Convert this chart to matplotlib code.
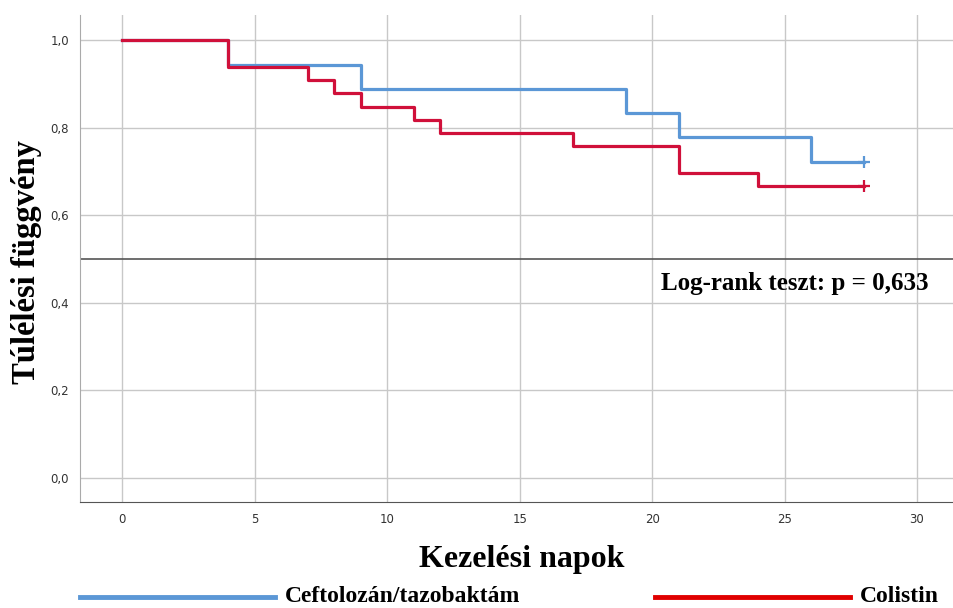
import matplotlib.pyplot as plt
from matplotlib.lines import Line2D
from matplotlib.ticker import FuncFormatter

# Kaplan-Meier step data (time in days, survival)
cef_days = [0, 4, 9, 19, 21, 26, 28]
cef_surv = [1.0, 0.944, 0.889, 0.833, 0.778, 0.722, 0.722]
col_days = [0, 4, 7, 8, 9, 11, 12, 17, 21, 24, 28]
col_surv = [1.0, 0.939, 0.909, 0.879, 0.848, 0.818, 0.788, 0.758, 0.697, 0.667, 0.667]

x_ticks = [0, 5, 10, 15, 20, 25, 30]
y_ticks = [0.0, 0.2, 0.4, 0.6, 0.8, 1.0]

blue = '#5b97d6'
red = '#d0103a'

plt.rcParams['font.family'] = ['DejaVu Sans']
serif = 'Liberation Serif'

fig = plt.figure(figsize=(9.54, 6.08), dpi=100)
ax = fig.add_axes([0.0839, 0.1743, 0.9161, 0.8010])

ax.step(cef_days, cef_surv, where='post', color=blue, lw=2.3)
ax.step(col_days, col_surv, where='post', color=red, lw=2.3)
# censored marks at the end
ax.plot(cef_days[-1], cef_surv[-1], marker='+', ms=8, mew=1.6, color=blue)
ax.plot(col_days[-1], col_surv[-1], marker='+', ms=8, mew=1.6, color=red)

ax.axhline(0.5, color='#555555', lw=1.2)

ax.set_xlim(-1.6, 31.4)
ax.set_ylim(-0.055, 1.057)
ax.set_xticks(x_ticks)
ax.set_yticks(y_ticks)
ax.yaxis.set_major_formatter(FuncFormatter(lambda v, p: f'{v:.1f}'.replace('.', ',')))
ax.tick_params(length=0, labelsize=8.5, labelcolor='#333333', pad=8)
ax.grid(True, color='#c8c8c8', lw=1.0)
ax.set_axisbelow(True)
for s in ['top', 'right']:
    ax.spines[s].set_visible(False)
ax.spines['left'].set_color('#aaaaaa')
ax.spines['bottom'].set_color('#555555')

ax.text(25.4, 0.443, 'Log-rank teszt: p = 0,633', family=serif, fontweight='bold',
        fontsize=18, ha='center', va='center')

fig.text(27/954, 1 - 262/608, 'Túlélési függvény', family=serif, fontweight='bold',
         fontsize=23.5, rotation=90, ha='center', va='center')
fig.text(522/954, 1 - 560/608, 'Kezelési napok', family=serif, fontweight='bold',
         fontsize=23, ha='center', va='center')

# legend along the bottom
fig.add_artist(Line2D([80/954, 275/954], [1 - 597/608] * 2, color=blue, lw=3.5))
fig.text(285/954, 1 - 597/608, 'Ceftolozán/tazobaktám', family=serif, fontweight='bold',
         fontsize=17, va='center')
fig.add_artist(Line2D([655/954, 850/954], [1 - 597/608] * 2, color='#e00000', lw=3.5))
fig.text(860/954, 1 - 597/608, 'Colistin', family=serif, fontweight='bold',
         fontsize=17, va='center')

fig.savefig('out.png', dpi=100)
